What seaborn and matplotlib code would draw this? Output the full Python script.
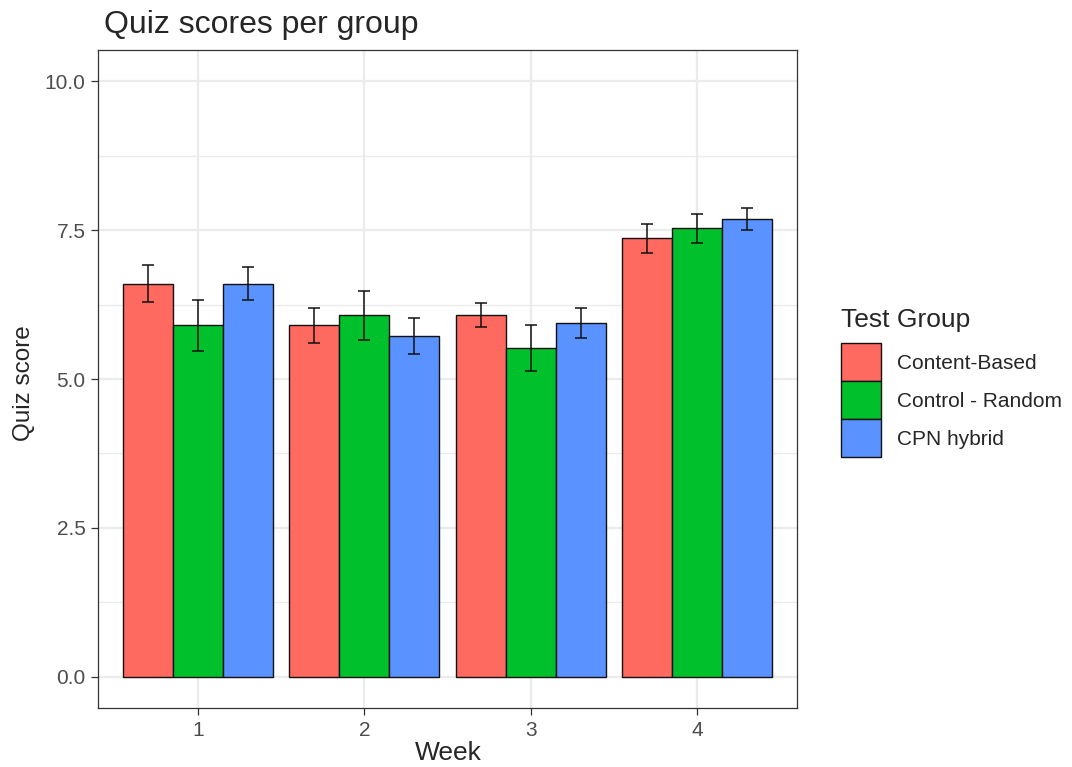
import numpy as np
import pandas as pd
import seaborn as sns
import matplotlib
matplotlib.use("Agg")
import matplotlib.pyplot as plt
from matplotlib.patches import Patch
from matplotlib.ticker import FixedLocator

# Mean quiz score and standard error per week and test group
weeks = ["1", "2", "3", "4"]
groups = ["Content-Based", "Control - Random", "CPN hybrid"]
content_based = [6.60, 5.90, 6.07, 7.36]
control_random = [5.90, 6.07, 5.52, 7.53]
cpn_hybrid = [6.60, 5.72, 5.94, 7.69]
se_content_based = [0.31, 0.29, 0.20, 0.24]
se_control_random = [0.43, 0.41, 0.38, 0.24]
se_cpn_hybrid = [0.28, 0.30, 0.25, 0.19]
colors = ["#FF6A60", "#00C12C", "#5A93FF"]

means = [content_based, control_random, cpn_hybrid]
ses = [se_content_based, se_control_random, se_cpn_hybrid]
rows = []
for g, m, s in zip(groups, means, ses):
    for w, mv, sv in zip(weeks, m, s):
        rows.append({"Week": w, "Score": mv, "SE": sv, "Group": g})
df = pd.DataFrame(rows)

sns.set_style("white")
plt.rcParams["font.family"] = ["Liberation Sans", "DejaVu Sans"]

W, H = 1072, 767
fig = plt.figure(figsize=(W / 100, H / 100), dpi=100)
ax = fig.add_axes([98 / W, (H - 708) / H, 699 / W, 658 / H])

sns.barplot(data=df, x="Week", y="Score", hue="Group", order=weeks,
            hue_order=groups, palette=colors, width=0.9, errorbar=None,
            edgecolor="#111111", linewidth=1.0, saturation=1, ax=ax,
            legend=False, zorder=3)

# Error bars centred on each bar
for container, g in zip(ax.containers, groups):
    sub = df[df["Group"] == g].set_index("Week").loc[weeks]
    xs = [p.get_x() + p.get_width() / 2 for p in container.patches]
    ax.errorbar(xs, sub["Score"].values, yerr=sub["SE"].values, fmt="none",
                ecolor="#111111", elinewidth=1.1, capsize=4.4, capthick=1.1,
                zorder=4)

ax.set_xlim(-0.6, 3.6)
ax.set_ylim(-0.525, 10.525)
ax.set_yticks([0, 2.5, 5.0, 7.5, 10.0])
ax.set_yticklabels(["0.0", "2.5", "5.0", "7.5", "10.0"])
ax.yaxis.set_minor_locator(FixedLocator([1.25, 3.75, 6.25, 8.75]))

ax.grid(True, which="major", color="#EBEBEB", linewidth=1.6, zorder=0)
ax.grid(True, which="minor", axis="y", color="#EBEBEB", linewidth=0.9, zorder=0)
ax.set_axisbelow(True)

for sp in ax.spines.values():
    sp.set_color("#333333")
    sp.set_linewidth(0.9)

ax.tick_params(axis="both", which="major", length=5, width=0.9,
               color="#333333", labelsize=15, labelcolor="#4D4D4D", pad=4,
               left=True, bottom=True)
ax.tick_params(axis="y", which="minor", length=0)

ax.set_xlabel("")
ax.set_ylabel("")
fig.text(448 / W, 1 - 753 / H, "Week", fontsize=19, ha="center", va="center")
fig.text(24 / W, 1 - 383 / H, "Quiz score", fontsize=17.5, ha="center",
         va="center", rotation=90)
fig.text(104 / W, 1 - 25 / H, "Quiz scores per group", fontsize=23,
         ha="left", va="center")

handles = [Patch(facecolor=c, edgecolor="#111111", linewidth=1.0) for c in colors]
leg = fig.legend(handles, groups, title="Test Group", loc="upper left",
                 bbox_to_anchor=(833 / W, 1 - 300 / H), frameon=False,
                 fontsize=15, title_fontsize=19, handlelength=1.92,
                 handleheight=2.43, labelspacing=0.0, handletextpad=0.75,
                 borderaxespad=0, alignment="left")
leg._legend_box.sep = 8

fig.savefig("out.png", dpi=100)
